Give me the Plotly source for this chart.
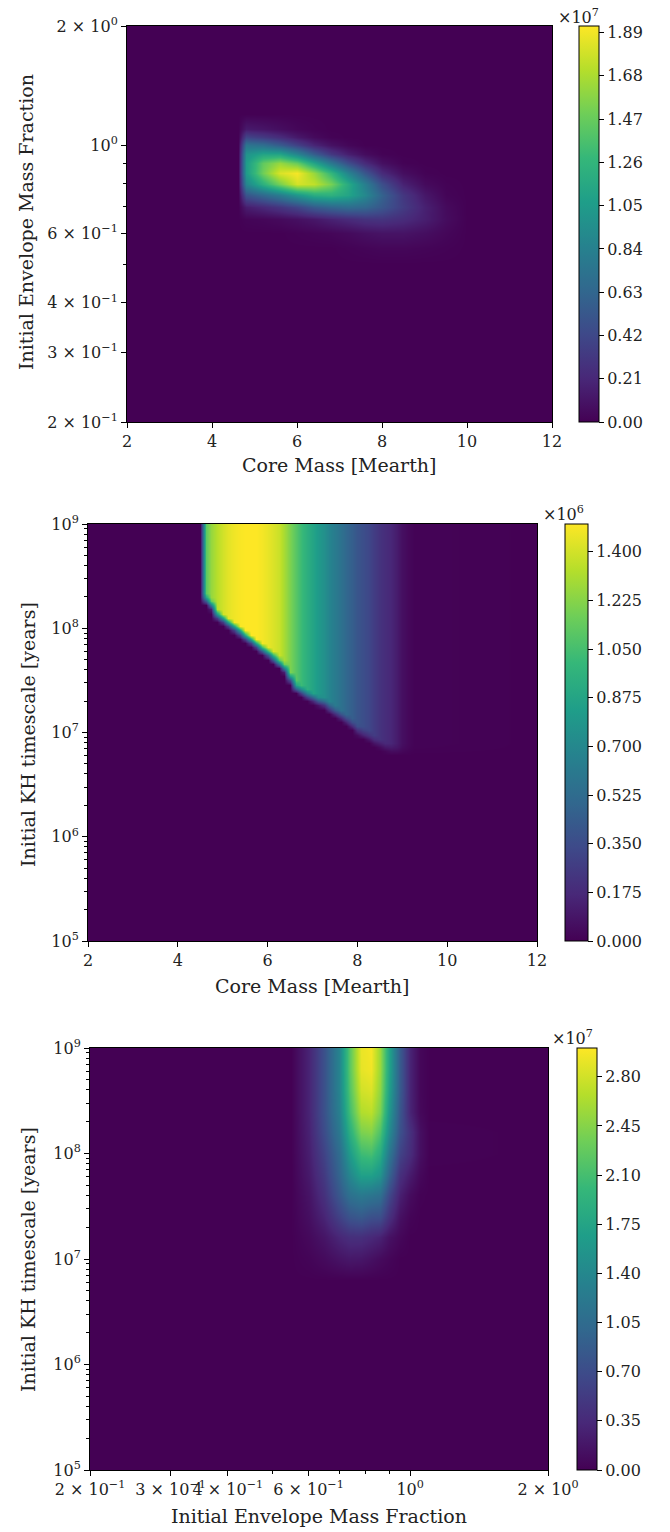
import numpy as np
import plotly.graph_objects as go

W, H = 670, 1532
FONT = "DejaVu Serif"

# ---------------- Panel 1: core mass vs envelope fraction (x1e7) ----------------
p1_core = [2.0, 4.6, 4.8, 5.2, 5.6, 6.0, 6.4, 6.8, 7.2, 7.6, 8.0, 8.5, 9.0, 9.5, 10.0, 12.0]
p1_env = [0.2, 0.5, 0.55, 0.6, 0.65, 0.7, 0.75, 0.8, 0.85, 0.9, 0.95, 1.0, 1.05, 1.1, 1.2, 2.0]
p1_z = [
    # 2   4.6  4.8   5.2   5.6   6.0   6.4   6.8   7.2   7.6   8.0   8.5   9.0   9.5  10  12
    [0, 0, 0.00, 0.00, 0.00, 0.00, 0.00, 0.00, 0.00, 0.00, 0.00, 0.00, 0.00, 0.00, 0, 0],  # 0.2
    [0, 0, 0.00, 0.00, 0.00, 0.00, 0.00, 0.00, 0.00, 0.00, 0.00, 0.00, 0.00, 0.00, 0, 0],  # 0.5
    [0, 0, 0.00, 0.00, 0.00, 0.00, 0.00, 0.00, 0.01, 0.02, 0.03, 0.03, 0.02, 0.01, 0, 0],  # 0.55
    [0, 0, 0.00, 0.00, 0.00, 0.01, 0.02, 0.03, 0.05, 0.08, 0.10, 0.10, 0.07, 0.03, 0, 0],  # 0.6
    [0, 0, 0.02, 0.03, 0.05, 0.08, 0.12, 0.18, 0.23, 0.28, 0.29, 0.24, 0.16, 0.06, 0, 0],  # 0.65
    [0, 0, 0.15, 0.22, 0.30, 0.40, 0.55, 0.63, 0.68, 0.64, 0.52, 0.34, 0.17, 0.05, 0, 0],  # 0.7
    [0, 0, 0.50, 0.65, 0.80, 1.00, 1.18, 1.22, 1.12, 0.90, 0.60, 0.31, 0.12, 0.02, 0, 0],  # 0.75
    [0, 0, 0.88, 1.22, 1.52, 1.80, 1.74, 1.52, 1.17, 0.82, 0.46, 0.18, 0.05, 0.01, 0, 0],  # 0.8
    [0, 0, 1.05, 1.50, 1.82, 1.90, 1.62, 1.27, 0.87, 0.52, 0.23, 0.07, 0.01, 0.00, 0, 0],  # 0.85
    [0, 0, 1.05, 1.45, 1.62, 1.47, 1.12, 0.77, 0.46, 0.23, 0.08, 0.01, 0.00, 0.00, 0, 0],  # 0.9
    [0, 0, 0.98, 1.12, 1.12, 0.88, 0.57, 0.32, 0.16, 0.06, 0.01, 0.00, 0.00, 0.00, 0, 0],  # 0.95
    [0, 0, 0.75, 0.70, 0.56, 0.38, 0.20, 0.09, 0.03, 0.00, 0.00, 0.00, 0.00, 0.00, 0, 0],  # 1.0
    [0, 0, 0.40, 0.33, 0.24, 0.13, 0.05, 0.01, 0.00, 0.00, 0.00, 0.00, 0.00, 0.00, 0, 0],  # 1.05
    [0, 0, 0.14, 0.11, 0.07, 0.03, 0.01, 0.00, 0.00, 0.00, 0.00, 0.00, 0.00, 0.00, 0, 0],  # 1.1
    [0, 0, 0.00, 0.00, 0.00, 0.00, 0.00, 0.00, 0.00, 0.00, 0.00, 0.00, 0.00, 0.00, 0, 0],  # 1.2
    [0, 0, 0.00, 0.00, 0.00, 0.00, 0.00, 0.00, 0.00, 0.00, 0.00, 0.00, 0.00, 0.00, 0, 0],  # 2.0
]
p1_zmax = 1.922
p1_cb_vals = [0.00, 0.21, 0.42, 0.63, 0.84, 1.05, 1.26, 1.47, 1.68, 1.89]

# ---------------- Panel 2: core mass vs KH timescale (x1e6) ----------------
p2_core = [2.0, 4.5, 4.625, 4.75, 4.875, 5.0, 5.125, 5.25, 5.375, 5.5, 5.625, 5.75,
           5.875, 6.0, 6.125, 6.25, 6.375, 6.5, 6.625, 6.75, 6.875, 7.0, 7.125, 7.25,
           7.375, 7.5, 7.625, 7.75, 7.875, 8.0, 8.125, 8.25, 8.375, 8.5, 8.625, 8.75,
           8.875, 9.0, 9.125, 9.25, 12.0]
p2_value = [0, 0, 1.12, 1.26, 1.34, 1.40, 1.44, 1.47, 1.49, 1.50, 1.51, 1.50,
            1.48, 1.45, 1.42, 1.38, 1.30, 1.20, 1.10, 1.02, 0.94, 0.87, 0.81, 0.75,
            0.68, 0.62, 0.56, 0.50, 0.45, 0.40, 0.36, 0.32, 0.27, 0.22, 0.19, 0.16,
            0.11, 0.06, 0.03, 0.01, 0]
# lowest log10(timescale) at which each core-mass column is populated
p2_lower_edge = [9.5, 9.5, 8.27, 8.22, 8.13, 8.09, 8.05, 8.01, 7.97, 7.93, 7.89, 7.85,
                 7.80, 7.76, 7.72, 7.67, 7.62, 7.52, 7.43, 7.40, 7.36, 7.33, 7.30, 7.28,
                 7.24, 7.20, 7.16, 7.12, 7.07, 7.02, 6.99, 6.96, 6.92, 6.89, 6.86, 6.84,
                 6.83, 6.83, 6.83, 6.83, 9.5]
p2_edge_softness = 0.10  # dex over which the lower edge fades
p2_logkh_rows = [5.0] + [round(6.5 + 0.04 * i, 2) for i in range(63)]
p2_zmax = 1.5
p2_cb_vals = [0.000, 0.175, 0.350, 0.525, 0.700, 0.875, 1.050, 1.225, 1.400]

# ---------------- Panel 3: envelope fraction vs KH timescale (x1e7) ----------------
p3_env = [0.2, 0.55, 0.6, 0.65, 0.7, 0.74, 0.78, 0.82, 0.86, 0.9, 0.95, 1.0, 1.05, 1.1, 2.0]
p3_kh = [1e5, 6.3e6, 1e7, 1.6e7, 2.5e7, 4e7, 6.3e7, 1e8, 1.6e8, 2.5e8, 4e8, 6.3e8, 1e9]
p3_z = [
    [0, 0.00, 0.00, 0.00, 0.00, 0.00, 0.00, 0.00, 0.00, 0.00, 0.00, 0.00, 0.00, 0.00, 0],
    [0, 0.00, 0.00, 0.00, 0.00, 0.00, 0.00, 0.00, 0.00, 0.00, 0.00, 0.00, 0.00, 0.00, 0],
    [0, 0.00, 0.03, 0.08, 0.15, 0.19, 0.18, 0.13, 0.08, 0.04, 0.00, 0.00, 0.00, 0.00, 0],
    [0, 0.00, 0.07, 0.17, 0.32, 0.40, 0.40, 0.34, 0.28, 0.14, 0.05, 0.00, 0.00, 0.00, 0],
    [0, 0.00, 0.12, 0.30, 0.58, 0.78, 0.84, 0.74, 0.72, 0.42, 0.13, 0.03, 0.00, 0.00, 0],
    [0, 0.00, 0.16, 0.42, 0.82, 1.12, 1.22, 1.17, 1.10, 0.66, 0.26, 0.09, 0.01, 0.00, 0],
    [0, 0.00, 0.21, 0.51, 0.96, 1.40, 1.70, 1.70, 1.55, 0.96, 0.41, 0.22, 0.06, 0.00, 0],
    [0, 0.00, 0.25, 0.60, 1.05, 1.65, 2.05, 2.10, 1.85, 1.20, 0.60, 0.38, 0.12, 0.01, 0],
    [0, 0.00, 0.28, 0.70, 1.20, 1.90, 2.40, 2.45, 2.15, 1.45, 0.75, 0.42, 0.12, 0.01, 0],
    [0, 0.00, 0.30, 0.75, 1.30, 2.10, 2.65, 2.70, 2.40, 1.60, 0.80, 0.30, 0.06, 0.00, 0],
    [0, 0.00, 0.30, 0.75, 1.35, 2.20, 2.80, 2.85, 2.50, 1.70, 0.85, 0.30, 0.05, 0.00, 0],
    [0, 0.00, 0.30, 0.75, 1.35, 2.25, 2.90, 2.95, 2.55, 1.75, 0.85, 0.30, 0.05, 0.00, 0],
    [0, 0.00, 0.30, 0.75, 1.35, 2.25, 2.92, 2.97, 2.55, 1.75, 0.85, 0.30, 0.05, 0.00, 0],
]
p3_zmax = 3.005
p3_cb_vals = [0.00, 0.35, 0.70, 1.05, 1.40, 1.75, 2.10, 2.45, 2.80]

# tick labels
env_tickvals = [0.2, 0.3, 0.4, 0.6, 1.0, 2.0]
env_ticktext = ["2 × 10<sup>−1</sup>", "3 × 10<sup>−1</sup>", "4 × 10<sup>−1</sup>",
                "6 × 10<sup>−1</sup>", "10<sup>0</sup>", "2 × 10<sup>0</sup>"]
env_minor = [0.5, 0.7, 0.8, 0.9]
kh_tickvals = [1e5, 1e6, 1e7, 1e8, 1e9]
kh_ticktext = ["10<sup>5</sup>", "10<sup>6</sup>", "10<sup>7</sup>", "10<sup>8</sup>", "10<sup>9</sup>"]
kh_minor = [m * 10 ** e for e in range(5, 9) for m in range(2, 10)]
core_tickvals = [2, 4, 6, 8, 10, 12]

# ---------------- build panel-2 grid from column values and lower edges ----------------
p2_kh = [10 ** v for v in p2_logkh_rows]
p2_z = [[p2_value[j] * min(1.0, max(0.0, (lk - p2_lower_edge[j]) / p2_edge_softness + 0.5))
         for j in range(len(p2_core))]
        for lk in p2_logkh_rows]

# ---------------- layout geometry (pixels) ----------------
panels = {
    1: dict(l=127, r=552, t=26, b=422, cbx=579, cbw=20),
    2: dict(l=88, r=537, t=524, b=941, cbx=565, cbw=23),
    3: dict(l=90, r=548, t=1048, b=1470, cbx=577, cbw=20),
}


def xdom(p):
    return [p["l"] / W, p["r"] / W]


def ydom(p):
    return [1 - p["b"] / H, 1 - p["t"] / H]


tickfont = dict(family=FONT, size=16, color="#222")


def colorbar(p, vals, fmt):
    return dict(
        x=p["cbx"] / W, xanchor="left", y=1 - p["t"] / H, yanchor="top",
        len=p["b"] - p["t"], lenmode="pixels",
        thickness=p["cbw"], thicknessmode="pixels",
        xpad=0, ypad=0, outlinewidth=1, outlinecolor="black",
        tickmode="array", tickvals=vals, ticktext=[fmt % v for v in vals],
        ticks="outside", ticklen=5, tickcolor="black", tickfont=tickfont,
    )


fig = go.Figure()
fig.add_trace(go.Heatmap(x=p1_core, y=p1_env, z=p1_z, zmin=0, zmax=p1_zmax,
                         colorscale="Viridis", zsmooth="best", hoverinfo="skip",
                         colorbar=colorbar(panels[1], p1_cb_vals, "%.2f"),
                         xaxis="x", yaxis="y"))
fig.add_trace(go.Heatmap(x=p2_core, y=p2_kh, z=p2_z, zmin=0, zmax=p2_zmax,
                         colorscale="Viridis", zsmooth="best", hoverinfo="skip",
                         colorbar=colorbar(panels[2], p2_cb_vals, "%.3f"),
                         xaxis="x2", yaxis="y2"))
fig.add_trace(go.Heatmap(x=p3_env, y=p3_kh, z=p3_z, zmin=0, zmax=p3_zmax,
                         colorscale="Viridis", zsmooth="best", hoverinfo="skip",
                         colorbar=colorbar(panels[3], p3_cb_vals, "%.2f"),
                         xaxis="x3", yaxis="y3"))


def axis(dom, anchor, **kw):
    d = dict(domain=dom, anchor=anchor, showline=True, linecolor="black", linewidth=1,
             mirror=True, ticks="outside", ticklen=5, tickcolor="black", tickfont=tickfont,
             showgrid=False, zeroline=False, automargin=False, tickangle=0)
    d.update(kw)
    return d


minor_style = dict(ticks="outside", ticklen=3, tickcolor="black", showgrid=False)

fig.update_layout(
    width=W, height=H, margin=dict(l=0, r=0, t=0, b=0),
    paper_bgcolor="white", plot_bgcolor="white", showlegend=False,
    xaxis=axis(xdom(panels[1]), "y", type="linear", range=[2, 12],
               tickmode="array", tickvals=core_tickvals),
    yaxis=axis(ydom(panels[1]), "x", type="log", range=[np.log10(0.2), np.log10(2)],
               tickmode="array", tickvals=env_tickvals, ticktext=env_ticktext,
               minor=dict(tickvals=env_minor, **minor_style)),
    xaxis2=axis(xdom(panels[2]), "y2", type="linear", range=[2, 12],
                tickmode="array", tickvals=core_tickvals),
    yaxis2=axis(ydom(panels[2]), "x2", type="log", range=[5, 9],
                tickmode="array", tickvals=kh_tickvals, ticktext=kh_ticktext,
                minor=dict(tickvals=kh_minor, **minor_style)),
    xaxis3=axis(xdom(panels[3]), "y3", type="log", range=[np.log10(0.2), np.log10(2)],
                tickmode="array", tickvals=env_tickvals, ticktext=env_ticktext,
                minor=dict(tickvals=env_minor, **minor_style)),
    yaxis3=axis(ydom(panels[3]), "x3", type="log", range=[5, 9],
                tickmode="array", tickvals=kh_tickvals, ticktext=kh_ticktext,
                minor=dict(tickvals=kh_minor, **minor_style)),
)

titlefont = dict(family=FONT, size=19, color="#222")
ann = []


def add_text(text, x, y, angle=0, font=titlefont):
    ann.append(dict(text=text, x=x / W, y=1 - y / H, xref="paper", yref="paper",
                    showarrow=False, textangle=angle, font=font,
                    xanchor="center", yanchor="middle"))


add_text("Core Mass [Mearth]", 339, 465)
add_text("Initial Envelope Mass Fraction", 26, 222, angle=-90)
add_text("Core Mass [Mearth]", 312, 986)
add_text("Initial KH timescale [years]", 28, 735, angle=-90)
add_text("Initial Envelope Mass Fraction", 319, 1516)
add_text("Initial KH timescale [years]", 28, 1260, angle=-90)
add_text("×10<sup>7</sup>", 578, 16, font=tickfont)
add_text("×10<sup>6</sup>", 563, 514, font=tickfont)
add_text("×10<sup>7</sup>", 572, 1037, font=tickfont)
fig.update_layout(annotations=ann)

fig.write_html("out.html")
